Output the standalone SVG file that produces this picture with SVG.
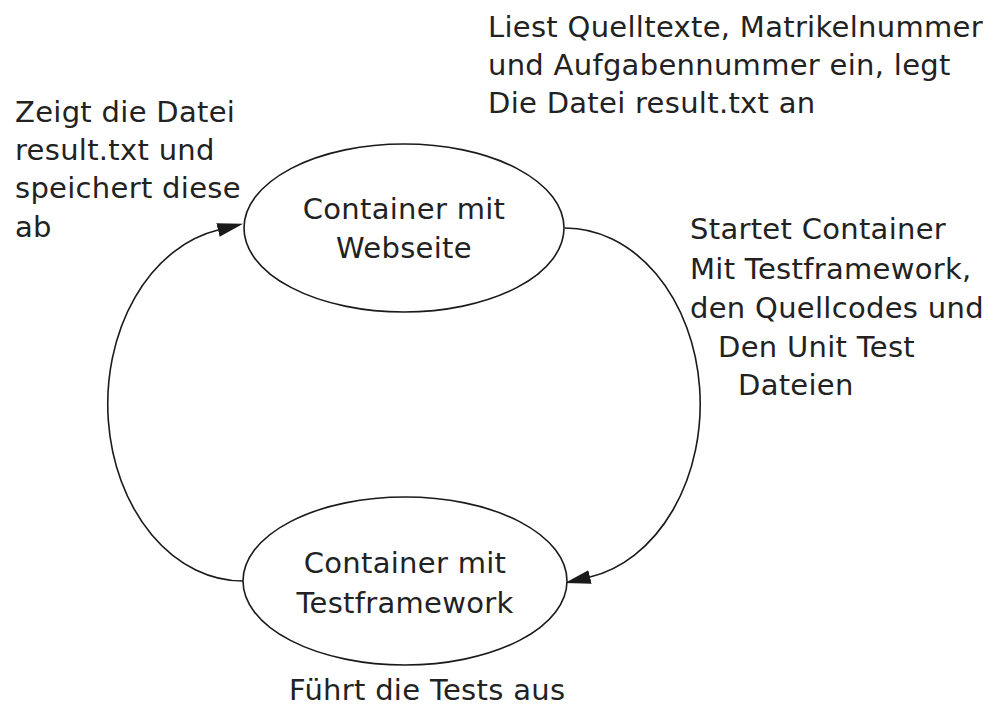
<svg xmlns="http://www.w3.org/2000/svg" width="999" height="713" viewBox="0 0 999 713">
<style>
  text { font-family: "DejaVu Sans", "Liberation Sans", sans-serif; font-size: 29px; fill: #222222; letter-spacing: 0.3px; }
  .node { fill: #ffffff; stroke: #1a1a1a; stroke-width: 1.6; }
  .edge { fill: none; stroke: #1a1a1a; stroke-width: 1.6; }
  .mid { text-anchor: middle; }
</style>
<defs>
  <marker id="arrow" markerUnits="userSpaceOnUse" markerWidth="26" markerHeight="14" viewBox="0 0 24 13" refX="0" refY="6.5" orient="auto">
    <path d="M0,0 L24,6.5 L0,13 z" fill="#1a1a1a"/>
  </marker>
</defs>
<rect width="999" height="713" fill="#ffffff"/>
<g id="connectors">
  <path class="edge" d="M565,228 A135,176 0 0 1 590,577" marker-end="url(#arrow)"/>
  <path class="edge" d="M243,581 A135,177 0 0 1 218,230" marker-end="url(#arrow)"/>
</g>
<g id="node-webseite">
  <ellipse class="node" cx="404" cy="228" rx="160" ry="84"/>
  <text class="mid" x="404" y="219">Container mit</text>
  <text class="mid" x="404" y="258">Webseite</text>
</g>
<g id="node-testframework">
  <ellipse class="node" cx="405" cy="581" rx="162" ry="84"/>
  <text class="mid" x="405" y="573">Container mit</text>
  <text class="mid" x="405" y="613">Testframework</text>
</g>
<g id="label-top">
  <text x="488" y="37">Liest Quelltexte, Matrikelnummer</text>
  <text x="488" y="75">und Aufgabennummer ein, legt</text>
  <text x="488" y="113">Die Datei result.txt an</text>
</g>
<g id="label-left">
  <text x="15" y="122">Zeigt die Datei</text>
  <text x="15" y="160">result.txt und</text>
  <text x="15" y="198">speichert diese</text>
  <text x="15" y="237">ab</text>
</g>
<g id="label-right">
  <text x="690" y="239">Startet Container</text>
  <text x="690" y="279">Mit Testframework,</text>
  <text x="690" y="318">den Quellcodes und</text>
  <text x="718" y="357">Den Unit Test</text>
  <text x="738" y="395">Dateien</text>
</g>
<g id="label-bottom">
  <text x="289" y="700">Führt die Tests aus</text>
</g>
</svg>
